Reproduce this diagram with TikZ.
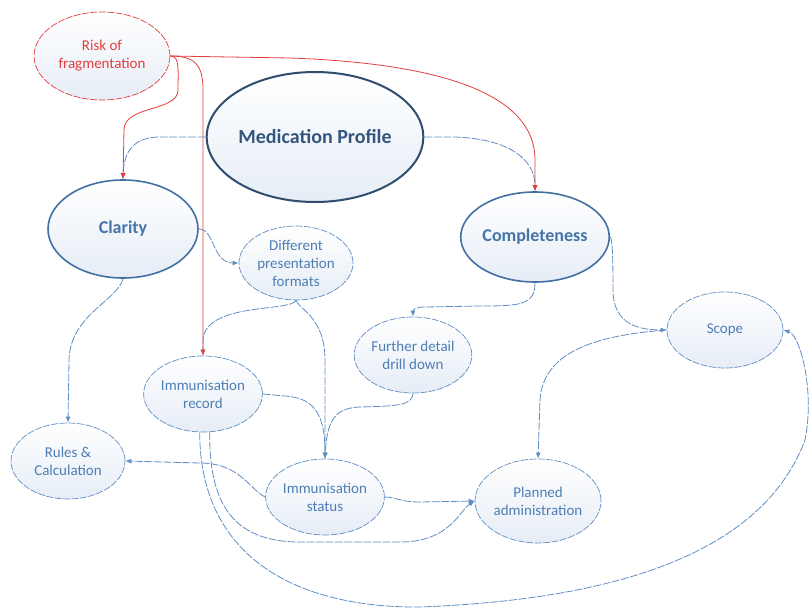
\documentclass[tikz,border=0pt]{standalone}
\usepackage{fontspec}
\setmainfont{Carlito}
\usetikzlibrary{shapes.geometric,arrows.meta}
\definecolor{lineblue}{RGB}{96,142,196}
\definecolor{textblue}{RGB}{78,126,180}
\definecolor{mpborder}{RGB}{47,78,110}
\definecolor{mptext}{RGB}{52,86,126}
\definecolor{bigborder}{RGB}{66,112,162}
\definecolor{bigtext}{RGB}{70,116,168}
\definecolor{riskred}{RGB}{226,62,62}
\definecolor{fillbot}{RGB}{230,237,246}
\tikzset{
  ell/.style={ellipse, inner sep=0pt, align=center, top color=white, bottom color=fillbot},
  small/.style={ell, draw=lineblue, line width=0.7pt, dash pattern=on 7pt off 1.5pt, text=textblue, font=\fontsize{15}{18}\selectfont},
  big/.style={ell, draw=bigborder, line width=1.6pt, text=bigtext, font=\fontsize{18}{21}\selectfont\bfseries},
  conn/.style={draw=lineblue, line width=0.8pt, dash pattern=on 8pt off 1.5pt, -{Latex[length=6pt,width=5pt]}},
  rconn/.style={draw=riskred, line width=0.8pt, -{Latex[length=6pt,width=5pt]}},
}
\begin{document}
\begin{tikzpicture}[x=1pt,y=-1pt]
\useasboundingbox (0,0) rectangle (811,610);
% nodes
\node[ell, draw=riskred, line width=0.7pt, dash pattern=on 7pt off 1.5pt, text=riskred, font=\fontsize{15}{18}\selectfont, minimum width=136pt, minimum height=88pt] (risk) at (102,56) {Risk of\\fragmentation};
\node[ell, draw=mpborder, line width=2pt, text=mptext, font=\fontsize{20}{24}\selectfont\bfseries, minimum width=194pt, minimum height=130pt] (mp) at (315,137) {Medication Profile};
\node[big, minimum width=150pt, minimum height=98pt] (clarity) at (123,229) {Clarity};
\node[big, minimum width=136pt, minimum height=90pt] (compl) at (535,237) {Completeness};
\node[small, minimum width=114pt, minimum height=74pt] (dpf) at (296,263) {Different\\presentation\\formats};
\node[small, minimum width=116pt, minimum height=76pt] (scope) at (725,330) {Scope};
\node[small, minimum width=114pt, minimum height=76pt] (further) at (413,355) {Further detail\\drill down};
\node[small, minimum width=114pt, minimum height=76pt] (imrec) at (203,394) {Immunisation\\record};
\node[small, minimum width=114pt, minimum height=76pt] (rules) at (68,461) {Rules \&\\Calculation};
\node[small, minimum width=114pt, minimum height=76pt] (imstat) at (325,497) {Immunisation\\status};
\node[small, minimum width=126pt, minimum height=84pt] (planned) at (538,501) {Planned\\administration};
% blue connectors
\draw[conn] (mp.west) -- (160,137) .. controls (135,137) and (124,150) .. (clarity.north);
\draw[conn] (mp.east) -- (455,137) .. controls (510,139) and (535,160) .. (compl.north);
\draw[conn] (clarity.east) .. controls (215,229) and (212,263) .. (dpf.west);
\draw[conn] (clarity.south) .. controls (118,300) and (70,315) .. (69,360) -- (rules.north);
\draw[conn] (dpf.south) .. controls (292,312) and (205,302) .. (203,340) -- (imrec.north);
\draw[conn] (dpf.south) .. controls (300,310) and (325,318) .. (325,360) -- (imstat.north);
\draw[conn] (compl.south) .. controls (535,305) and (520,306) .. (480,306) -- (425,307) .. controls (415,307) and (413,310) .. (further.north);
\draw[conn] (compl.east) .. controls (612,237) and (613,250) .. (613,290) .. controls (613,325) and (640,330) .. (scope.west);
\draw[conn] (further.south) .. controls (412,405) and (400,406) .. (360,407) .. controls (335,408) and (327,420) .. (imstat.north);
\draw[conn] (imrec.east) -- (285,396) .. controls (315,398) and (325,415) .. (imstat.north);
\draw[conn] (imstat.west) .. controls (250,490) and (240,463) .. (200,463) -- (rules.east);
\draw[conn] (imstat.east) .. controls (395,497) and (400,502) .. (420,502) -- (planned.west);
\draw[conn] (imrec.280) .. controls (209,500) and (230,542) .. (300,542) -- (400,542) .. controls (450,542) and (460,510) .. (planned.west);
\draw[conn] (imrec.265) .. controls (200,560) and (300,608) .. (420,607) .. controls (600,600) and (760,560) .. (805,440) .. controls (815,390) and (800,335) .. (scope.east);
\draw[conn] (scope.west) .. controls (600,335) and (543,350) .. (540,400) -- (planned.north);
% red connectors
\draw[rconn] (risk.east) .. controls (180,56) and (178,70) .. (178,90) .. controls (178,112) and (124,105) .. (124,130) -- (clarity.north);
\draw[rconn] (risk.east) .. controls (195,56) and (203,65) .. (203,90) -- (imrec.north);
\draw[rconn] (risk.east) -- (290,58) .. controls (430,63) and (535,90) .. (535,160) -- (compl.north);
\end{tikzpicture}
\end{document}
